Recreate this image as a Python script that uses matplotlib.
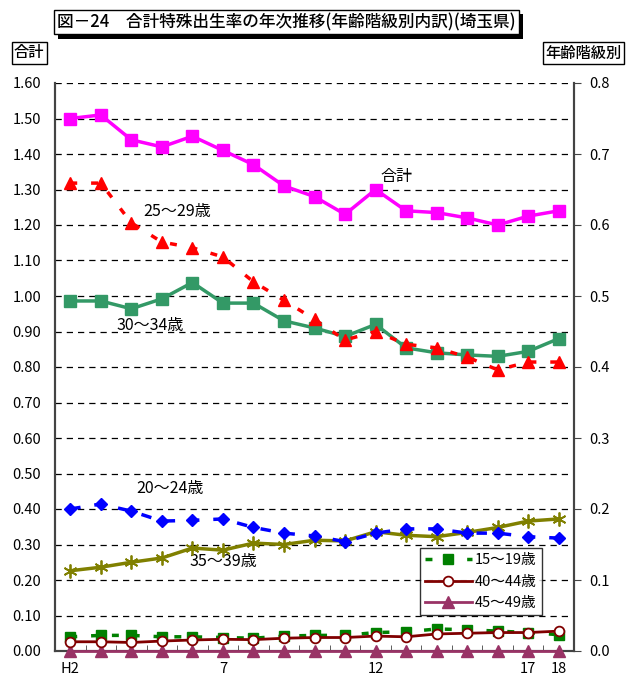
import matplotlib
matplotlib.use("Agg")
import matplotlib.pyplot as plt
import matplotlib.patheffects as pe
import numpy as np

plt.rcParams['font.family'] = ['Noto Sans CJK JP', 'DejaVu Sans']

years = ['H2', '3', '4', '5', '6', '7', '8', '9', '10', '11', '12', '13', '14', '15', '16', '17', '18']
tick_labels = {0: 'H2', 5: '7', 10: '12', 15: '17', 16: '18'}

# 合計 (左軸)
total = [1.50, 1.51, 1.44, 1.42, 1.45, 1.41, 1.37, 1.31, 1.28, 1.23, 1.30, 1.24, 1.235, 1.22, 1.20, 1.225, 1.24]

# 年齢階級別 (右軸)
age15_19 = [0.020, 0.022, 0.022, 0.020, 0.020, 0.019, 0.018, 0.021, 0.022, 0.022, 0.026, 0.027, 0.031, 0.030, 0.028, 0.026, 0.023]
age20_24 = [0.200, 0.207, 0.197, 0.183, 0.184, 0.186, 0.174, 0.166, 0.162, 0.154, 0.166, 0.172, 0.172, 0.166, 0.166, 0.161, 0.159]
age25_29 = [0.659, 0.659, 0.603, 0.576, 0.568, 0.555, 0.520, 0.494, 0.467, 0.438, 0.450, 0.432, 0.427, 0.414, 0.396, 0.407, 0.407]
age30_34 = [0.493, 0.493, 0.482, 0.496, 0.519, 0.490, 0.490, 0.465, 0.455, 0.443, 0.460, 0.427, 0.420, 0.417, 0.415, 0.422, 0.440]
age35_39 = [0.113, 0.118, 0.125, 0.131, 0.145, 0.142, 0.152, 0.150, 0.156, 0.155, 0.168, 0.163, 0.161, 0.167, 0.174, 0.183, 0.186]
age40_44 = [0.013, 0.013, 0.012, 0.014, 0.0155, 0.0165, 0.016, 0.018, 0.019, 0.019, 0.021, 0.020, 0.024, 0.025, 0.026, 0.026, 0.028]
age45_49 = [0.0005] * 17

x = np.arange(len(years))

fig = plt.figure(figsize=(6.33, 6.8), dpi=100)
ax = fig.add_axes([55 / 633, 29 / 680, 519 / 633, 568 / 680])
ax2 = ax.twinx()

# 右軸（年齢階級別）
ax2.plot(x, age45_49, color='#993366', lw=2, marker='^', ms=8, clip_on=False, label='45～49歳', zorder=3)
ax2.plot(x, age40_44, color='#800000', lw=2, marker='o', ms=7, mfc='white', mec='#800000', mew=1.3,
         label='40～44歳', zorder=4)
ax2.plot(x, age15_19, color='#008000', lw=2.5, ls=(0, (2, 4)), marker='s', ms=7, label='15～19歳', zorder=3)
ax2.plot(x, age35_39, color='#808000', lw=2.5, marker=(6, 2, 0), ms=10, mew=1.3, zorder=3)
ax2.plot(x, age20_24, color='#0000FF', lw=2.5, ls=(0, (3, 4)), marker='D', ms=6, zorder=3)
ax2.plot(x, age30_34, color='#339966', lw=2.5, marker='s', ms=8, zorder=3)
ax2.plot(x, age25_29, color='#FF0000', lw=2.5, ls=(0, (2, 4)), marker='^', ms=9, zorder=3)

# 左軸（合計）
ax.plot(x, total, color='#FF00FF', lw=2.5, marker='s', ms=8, zorder=3)

ax.set_xlim(-0.5, 16.5)
ax.set_ylim(0, 1.6)
ax2.set_ylim(0, 0.8)

ax.set_yticks(np.arange(0, 1.61, 0.1))
ax.set_yticklabels(['%.2f' % v for v in np.arange(0, 1.61, 0.1)], fontsize=10.5)
ax2.set_yticks(np.arange(0, 0.81, 0.1))
ax2.set_yticklabels(['%.1f' % v for v in np.arange(0, 0.81, 0.1)], fontsize=10.5)
ax.tick_params(axis='y', length=0, pad=10)
ax2.tick_params(axis='y', length=5, direction='out', pad=6, color='#444444')

ax.set_xticks(list(tick_labels.keys()))
ax.set_xticklabels(list(tick_labels.values()), fontsize=10.5)
ax.tick_params(axis='x', length=0, pad=8)
ax.set_xticks(np.arange(-0.5, 16.6, 1), minor=True)
ax.tick_params(axis='x', which='minor', length=4, direction='in', color='#444444')

ax.yaxis.grid(True, ls=(0, (5, 4)), color='black', lw=0.9)
ax.set_axisbelow(True)
for a in (ax, ax2):
    a.spines['top'].set_visible(False)
    for s in ('left', 'right', 'bottom'):
        a.spines[s].set_color('#444444')
        a.spines[s].set_linewidth(1.5)

# 系列ラベル
ax.text(10.15, 1.325, '合計', fontsize=11.5)
ax.text(2.4, 1.225, '25～29歳', fontsize=11.5)
ax.text(1.5, 0.905, '30～34歳', fontsize=11.5)
ax.text(2.15, 0.445, '20～24歳', fontsize=11.5)
ax.text(3.9, 0.24, '35～39歳', fontsize=11.5)

order = ['15～19歳', '40～44歳', '45～49歳']
h, l = ax2.get_legend_handles_labels()
hl = dict(zip(l, h))
leg = ax2.legend([hl[k] for k in order], order, loc='lower left', bbox_to_anchor=(420 / 633, 65 / 680),
                 bbox_transform=fig.transFigure, fontsize=10.5, frameon=True, fancybox=False,
                 edgecolor='black', handlelength=3.2, borderpad=0.35, labelspacing=0.5,
                 handletextpad=0.2, borderaxespad=0)
leg.get_frame().set_linewidth(1.0)

# タイトルと軸見出し
title = '図－24　合計特殊出生率の年次推移(年齢階級別内訳)(埼玉県)'
t = fig.text(57 / 633, 1 - 22 / 680, title, fontsize=12, fontweight='medium', va='center',
             bbox=dict(boxstyle='square,pad=0.2', fc='white', ec='black', lw=1))
t.get_bbox_patch().set_path_effects([pe.SimplePatchShadow(offset=(3, -3), shadow_rgbFace='black', alpha=1),
                                     pe.Normal()])
fig.text(14 / 633, 1 - 53 / 680, '合計', fontsize=11, fontweight='medium', va='center',
         bbox=dict(boxstyle='square,pad=0.15', fc='white', ec='black', lw=1))
fig.text(545 / 633, 1 - 53 / 680, '年齢階級別', fontsize=11, fontweight='medium', va='center',
         bbox=dict(boxstyle='square,pad=0.15', fc='white', ec='black', lw=1))

fig.savefig('out.png', dpi=100)
